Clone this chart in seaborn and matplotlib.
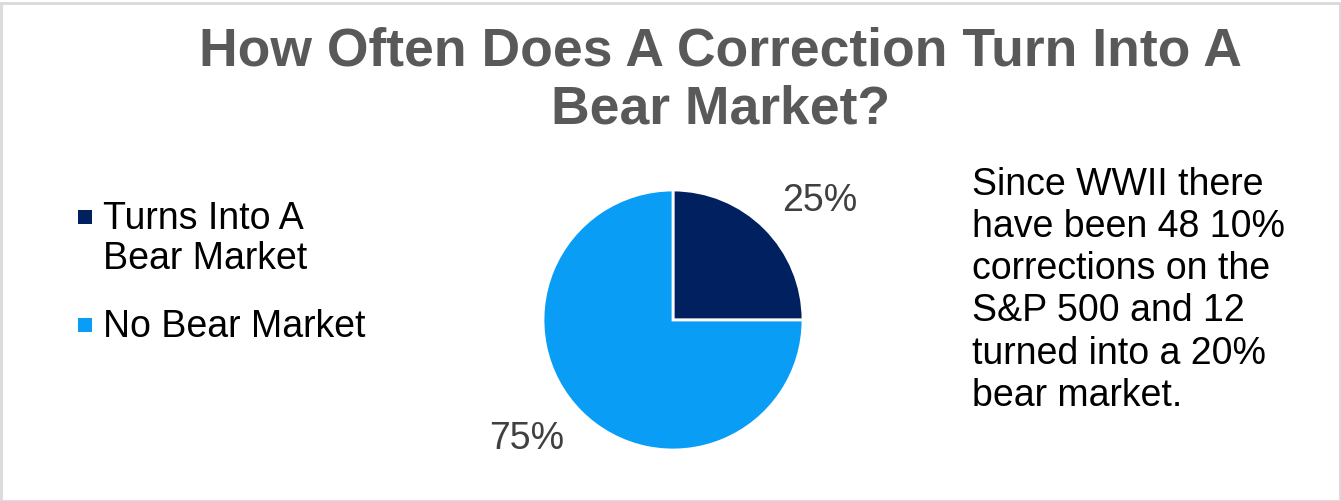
import matplotlib
matplotlib.use("Agg")
import matplotlib.pyplot as plt
import matplotlib.patches as patches
import numpy as np
import seaborn as sns

sns.set_theme(style="white")
plt.rcParams['font.family'] = ['Liberation Sans', 'DejaVu Sans']

# data
categories = ["Turns Into A\nBear Market", "No Bear Market"]
shares = [25, 75]
colors = ["#002060", "#0A9DF5"]
title = "How Often Does A Correction Turn Into A\nBear Market?"
note = ("Since WWII there\nhave been 48 10%\ncorrections on the\n"
        "S&P 500 and 12\nturned into a 20%\nbear market.")

W, H = 1341, 501
fig = plt.figure(figsize=(W / 100, H / 100), dpi=100, facecolor="white")

# pie axes, radius ~130px centred around (673, 320)
ax = fig.add_axes([543 / W, 51 / H, 260 / W, 260 / H])
wedges, texts, autotexts = ax.pie(
    shares, colors=colors, startangle=90, counterclock=False,
    autopct="%d%%", pctdistance=1.44,
    wedgeprops=dict(edgecolor="white", linewidth=2),
    textprops=dict(fontsize=27, color="#404040"))
ax.set_xlim(-1, 1)
ax.set_ylim(-1, 1)
ax.set_aspect("equal")
ax.axis("off")

# pull the percentage labels a little towards the horizontal (best-fit style)
for w, t in zip(wedges, autotexts):
    mid = np.deg2rad((w.theta1 + w.theta2) / 2)
    ang = np.arctan2(np.sin(mid), np.cos(mid))
    ang = ang - np.deg2rad(6) * np.sign(np.sin(2 * ang))
    t.set_position((1.45 * np.cos(ang), 1.45 * np.sin(ang)))

fig.text(0.537, 1 - 27 / H, title, ha="center", va="top", fontsize=38.5,
         fontweight="bold", color="#595959", linespacing=1.18)

# legend drawn as squares + text, aligned like the slide
legend_base = [229, 337]
for cat, col, base in zip(categories, colors, legend_base):
    fig.patches.append(patches.Rectangle((78 / W, 1 - (base - 5) / H), 14 / W, 14 / H,
                                         transform=fig.transFigure,
                                         facecolor=col, edgecolor="none"))
    lines = cat.split("\n")
    for i, line in enumerate(lines):
        fig.text(103 / W, 1 - (base + 40 * i) / H, line, ha="left",
                 va="baseline", fontsize=27, color="black")

fig.text(972 / W, 1 - 167 / H, note, ha="left", va="top",
         fontsize=27, color="black", linespacing=1.22)

# light border around the slide
fig.patches.append(patches.Rectangle((0.001, 0.0), 0.998, 0.995,
                                     transform=fig.transFigure, fill=False,
                                     edgecolor="#d9d9d9", linewidth=2))

fig.savefig("out.png", dpi=100)
